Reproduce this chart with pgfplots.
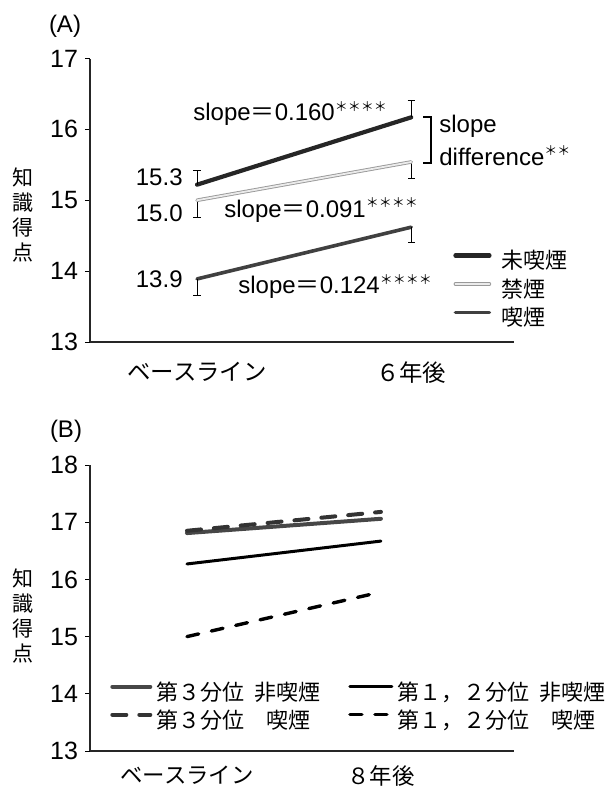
\documentclass[border=0pt]{standalone}
\usepackage{pgfplots}
\pgfplotsset{compat=1.18}
\usepackage{fontspec}
\setmainfont{Liberation Sans}
\newfontfamily\cjk{Noto Sans CJK JP}
\newcommand\stars[1]{\raisebox{4.6pt}{\cjk\fontsize{6.5}{7}\selectfont #1}}
\pgfplotsset{
  panel/.style={
    scale only axis, width=212pt, clip=false,
    axis lines*=left, axis line style={black!85, line width=0.6pt, -},
    xtick={0,1}, tick align=outside, major tick length=2.5pt,
    ytick pos=left, xtick style={draw=none},
    ytick style={black, line width=0.5pt},
    /pgf/number format/assume math mode=true,
    yticklabel style={font=\fontsize{12.5}{14}\selectfont},
    no marks,
    legend cell align=left,
  },
  limg/.style={legend image code/.code={\draw[##1] (0pt,3.8pt) -- (#1,3.8pt);}},
  limgA/.style={legend image code/.code={\draw[##1] (0pt,3.5pt) -- (17pt,3.5pt);}},
  ebar/.style={error bars/.cd, y dir=#1, y explicit,
    error bar style={black, line width=0.5pt, line cap=butt, solid},
    error mark options={black, line width=0.5pt, mark size=1.8pt, rotate=90, solid}},
}
\begin{document}
\begin{tikzpicture}
\useasboundingbox (0,0) rectangle (307.5pt,-393.5pt);
% ---------------- Panel A ----------------
\begin{axis}[panel, at={(45pt,-171pt)}, anchor=south west, height=141.75pt,
  xmin=-0.5, xmax=1.48, ymin=13, ymax=17, ytick={13,14,15,16,17},
  xticklabels={ベースライン,６年後},
  xticklabel style={font=\cjk\fontsize{11.7}{13}\selectfont, yshift=-4pt},
  every axis y label/.style={at={(axis description cs:-0.158,0.448)}, anchor=center,
     font=\cjk\fontsize{10.5}{12.5}\selectfont, align=center},
  ylabel={知\\識\\得\\点},
  legend style={at={(axis description cs:0.856,0.317)}, anchor=north west, draw=none, fill=none,
     font=\cjk\fontsize{11}{13}\selectfont, inner sep=0pt,
     nodes={inner sep=0pt, text height=8pt, text depth=2pt},
     row sep=4.25pt, /tikz/every odd column/.append style={column sep=5pt}},
  limgA,
]
% error bars of the quitters (drawn first, under the line)
\addplot[forget plot, black!30, line width=0.4pt, ebar=minus]
  coordinates {(0,15.0) +- (0,0.24) (1,15.54) +- (0,0.23)};
\addplot[black!85, line width=2.1pt, line cap=round, ebar=plus]
  coordinates {(0,15.22) +- (0,0.20) (1,16.17) +- (0,0.24)};
\addlegendentry{未喫煙}
\addplot[draw=black!40, double=black!8, double distance=0.9pt, line width=0.45pt, line cap=round]
  coordinates {(0,15.0) (1,15.54)};
\addlegendentry{禁煙}
\addplot[black!75, line width=1.8pt, line cap=round, ebar=minus]
  coordinates {(0,13.89) +- (0,0.23) (1,14.62) +- (0,0.21)};
\addlegendentry{喫煙}
\end{axis}
% ---------------- Panel B ----------------
\begin{axis}[panel, at={(45pt,-375.5pt)}, anchor=south west, height=143pt,
  xmin=-0.5, xmax=1.686, ymin=13, ymax=18, ytick={13,14,15,16,17,18},
  xticklabels={ベースライン,８年後},
  xticklabel style={font=\cjk\fontsize{11.2}{13}\selectfont, yshift=-1.5pt},
  every axis y label/.style={at={(axis description cs:-0.158,0.472)}, anchor=center,
     font=\cjk\fontsize{10.5}{12.5}\selectfont, align=center},
  ylabel={知\\識\\得\\点},
  legend columns=2,
  legend style={at={(axis description cs:0.047,0.238)}, anchor=north west, draw=none, fill=none,
     font=\cjk\fontsize{11}{13}\selectfont, inner sep=0pt,
     nodes={inner sep=0pt, text height=8.5pt, text depth=2.5pt},
     row sep=3pt,
     /tikz/every odd column/.append style={column sep=2pt},
     /tikz/every even column/.append style={column sep=14pt}},
]
\addplot[black!72, line width=2pt, line cap=round, limg=19pt]
  coordinates {(0,16.81) (1,17.06)};
\addlegendentry{第３分位\hspace{0.45em}非喫煙}
\addplot[black, line width=1.5pt, line cap=round, limg=21pt]
  coordinates {(0,16.27) (1,16.67)};
\addlegendentry{第１，２分位\hspace{0.45em}非喫煙}
\addplot[black!80, line width=2pt, line cap=round, dash pattern=on 7pt off 6.5pt, limg=19pt]
  coordinates {(0,16.85) (1,17.18)};
\addlegendentry{第３分位　喫煙}
\addplot[black, line width=1.7pt, line cap=round, dash pattern=on 6pt off 6.5pt, limg=21pt]
  coordinates {(0,15.0) (1,15.78)};
\addlegendentry{第１，２分位　喫煙}
\end{axis}
% ---------------- Annotations ----------------
\begin{scope}[every node/.style={inner sep=0pt, font=\fontsize{12}{14}\selectfont}]
\node[anchor=center] at (32.5pt,-13pt) {(A)};
\node[anchor=center] at (33pt,-215.5pt) {(B)};
\node[anchor=base east] at (91.5pt,-92.5pt) {15.3};
\node[anchor=base east] at (91.5pt,-110.8pt) {15.0};
\node[anchor=base east] at (91.5pt,-143.7pt) {13.9};
\node[anchor=base west] at (96.5pt,-60.3pt) {slope{\cjk ＝}0.160\stars{＊＊＊＊}};
\node[anchor=base west] at (112pt,-108.5pt) {slope{\cjk ＝}0.091\stars{＊＊＊＊}};
\node[anchor=base west] at (119pt,-146.7pt) {slope{\cjk ＝}0.124\stars{＊＊＊＊}};
\node[anchor=base west] at (219.5pt,-66.3pt) {slope};
\node[anchor=base west] at (219.5pt,-82.5pt) {difference\stars{＊＊}};
\end{scope}
\draw[black, line width=1.2pt] (211.5pt,-58.5pt) -- (215.5pt,-58.5pt) -- (215.5pt,-81.5pt) -- (211.5pt,-81.5pt);
\end{tikzpicture}
\end{document}
